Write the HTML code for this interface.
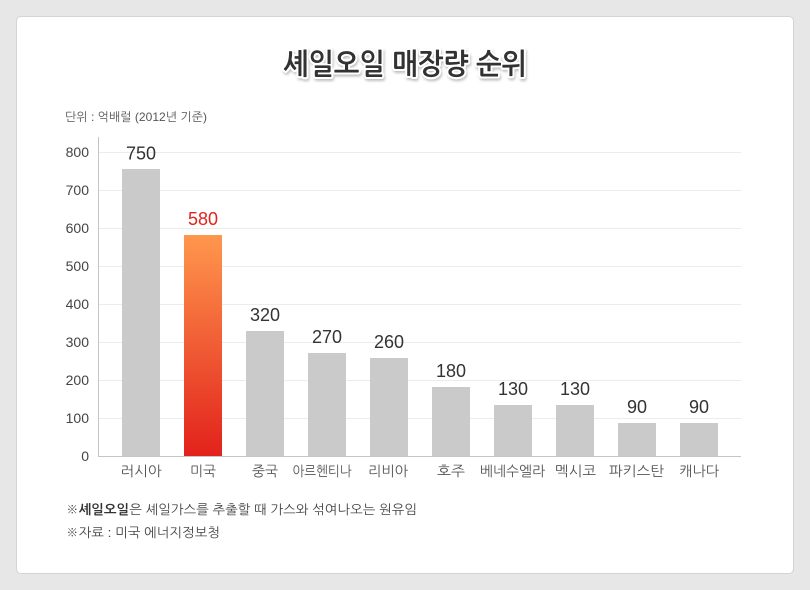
<!DOCTYPE html>
<html><head><meta charset="utf-8">
<style>
html,body{margin:0;padding:0;background:#e7e7e7;}
body{width:810px;height:590px;position:relative;overflow:hidden;}
.card{position:absolute;left:16px;top:16px;width:776px;height:556px;background:#fff;border:1px solid #d4d4d4;border-radius:5px;}
svg{position:absolute;left:0;top:0;}
text{font-family:"Liberation Sans","NanumGothic","Noto Sans CJK KR",sans-serif;}
</style></head>
<body>
<div class="card"></div>
<svg width="810" height="590" viewBox="0 0 810 590" xmlns="http://www.w3.org/2000/svg">
<defs>
<filter id="sh" x="-10%" y="-30%" width="120%" height="160%">
<feDropShadow dx="1" dy="2" stdDeviation="1.2" flood-color="#000" flood-opacity="0.25"/>
</filter>
<linearGradient id="g" x1="0" y1="0" x2="0" y2="1">
<stop offset="0" stop-color="#ff974d"/>
<stop offset="1" stop-color="#e2221c"/>
</linearGradient>
</defs>
<text x="405" y="74" text-anchor="middle" font-size="29" font-weight="bold" fill="#333" stroke="#fff" stroke-width="4" paint-order="stroke" stroke-linejoin="round" filter="url(#sh)" textLength="244" lengthAdjust="spacingAndGlyphs">셰일오일 매장량 순위</text>

<text x="65" y="121" font-size="12" fill="#555" textLength="142" lengthAdjust="spacingAndGlyphs">단위 : 억배럴 (2012년 기준)</text>

<g stroke="#ececec" stroke-width="1">
<line x1="98" y1="152.5" x2="741" y2="152.5"/>
<line x1="98" y1="190.5" x2="741" y2="190.5"/>
<line x1="98" y1="228.5" x2="741" y2="228.5"/>
<line x1="98" y1="266.5" x2="741" y2="266.5"/>
<line x1="98" y1="304.5" x2="741" y2="304.5"/>
<line x1="98" y1="342.5" x2="741" y2="342.5"/>
<line x1="98" y1="380.5" x2="741" y2="380.5"/>
<line x1="98" y1="418.5" x2="741" y2="418.5"/>
</g>

<g font-size="14" fill="#444" text-anchor="end">
<text x="89" y="157">800</text>
<text x="89" y="195">700</text>
<text x="89" y="233">600</text>
<text x="89" y="271">500</text>
<text x="89" y="309">400</text>
<text x="89" y="347">300</text>
<text x="89" y="385">200</text>
<text x="89" y="423">100</text>
<text x="89" y="461">0</text>
</g>

<g fill="#cacaca">
<rect x="122" y="169" width="38" height="287"/>
<rect x="246" y="331" width="38" height="125"/>
<rect x="308" y="353" width="38" height="103"/>
<rect x="370" y="358" width="38" height="98"/>
<rect x="432" y="387" width="38" height="69"/>
<rect x="494" y="405" width="38" height="51"/>
<rect x="556" y="405" width="38" height="51"/>
<rect x="618" y="423" width="38" height="33"/>
<rect x="680" y="423" width="38" height="33"/>
</g>
<rect x="184" y="235" width="38" height="221" fill="url(#g)"/>

<line x1="98.5" y1="137" x2="98.5" y2="456.5" stroke="#c4c4c4" stroke-width="1"/>
<line x1="98" y1="456.5" x2="741" y2="456.5" stroke="#c4c4c4" stroke-width="1"/>

<g font-size="18" fill="#333" text-anchor="middle">
<text x="141" y="159.5">750</text>
<text x="203" y="225" fill="#e2231a">580</text>
<text x="265" y="321">320</text>
<text x="327" y="343">270</text>
<text x="389" y="348">260</text>
<text x="451" y="377">180</text>
<text x="513" y="395">130</text>
<text x="575" y="395">130</text>
<text x="637" y="413">90</text>
<text x="699" y="413">90</text>
</g>

<g font-size="14" fill="#555" text-anchor="middle">
<text x="141" y="476" textLength="41" lengthAdjust="spacingAndGlyphs">러시아</text>
<text x="203" y="476" textLength="26" lengthAdjust="spacingAndGlyphs">미국</text>
<text x="265" y="476" textLength="26" lengthAdjust="spacingAndGlyphs">중국</text>
<text x="322" y="476" textLength="59" lengthAdjust="spacingAndGlyphs">아르헨티나</text>
<text x="388" y="476" textLength="40" lengthAdjust="spacingAndGlyphs">리비아</text>
<text x="451" y="476" textLength="28" lengthAdjust="spacingAndGlyphs">호주</text>
<text x="512.5" y="476" textLength="65" lengthAdjust="spacingAndGlyphs">베네수엘라</text>
<text x="575.5" y="476" textLength="41" lengthAdjust="spacingAndGlyphs">멕시코</text>
<text x="636.5" y="476" textLength="55" lengthAdjust="spacingAndGlyphs">파키스탄</text>
<text x="699" y="476" textLength="40" lengthAdjust="spacingAndGlyphs">캐나다</text>
</g>

<text x="66" y="514" font-size="13" fill="#444" textLength="351" lengthAdjust="spacingAndGlyphs">※<tspan font-weight="bold" fill="#333">셰일오일</tspan>은 셰일가스를 추출할 때 가스와 섞여나오는 원유임</text>
<text x="66" y="537" font-size="13" fill="#444" textLength="154" lengthAdjust="spacingAndGlyphs">※자료 : 미국 에너지정보청</text>
</svg>
</body></html>
